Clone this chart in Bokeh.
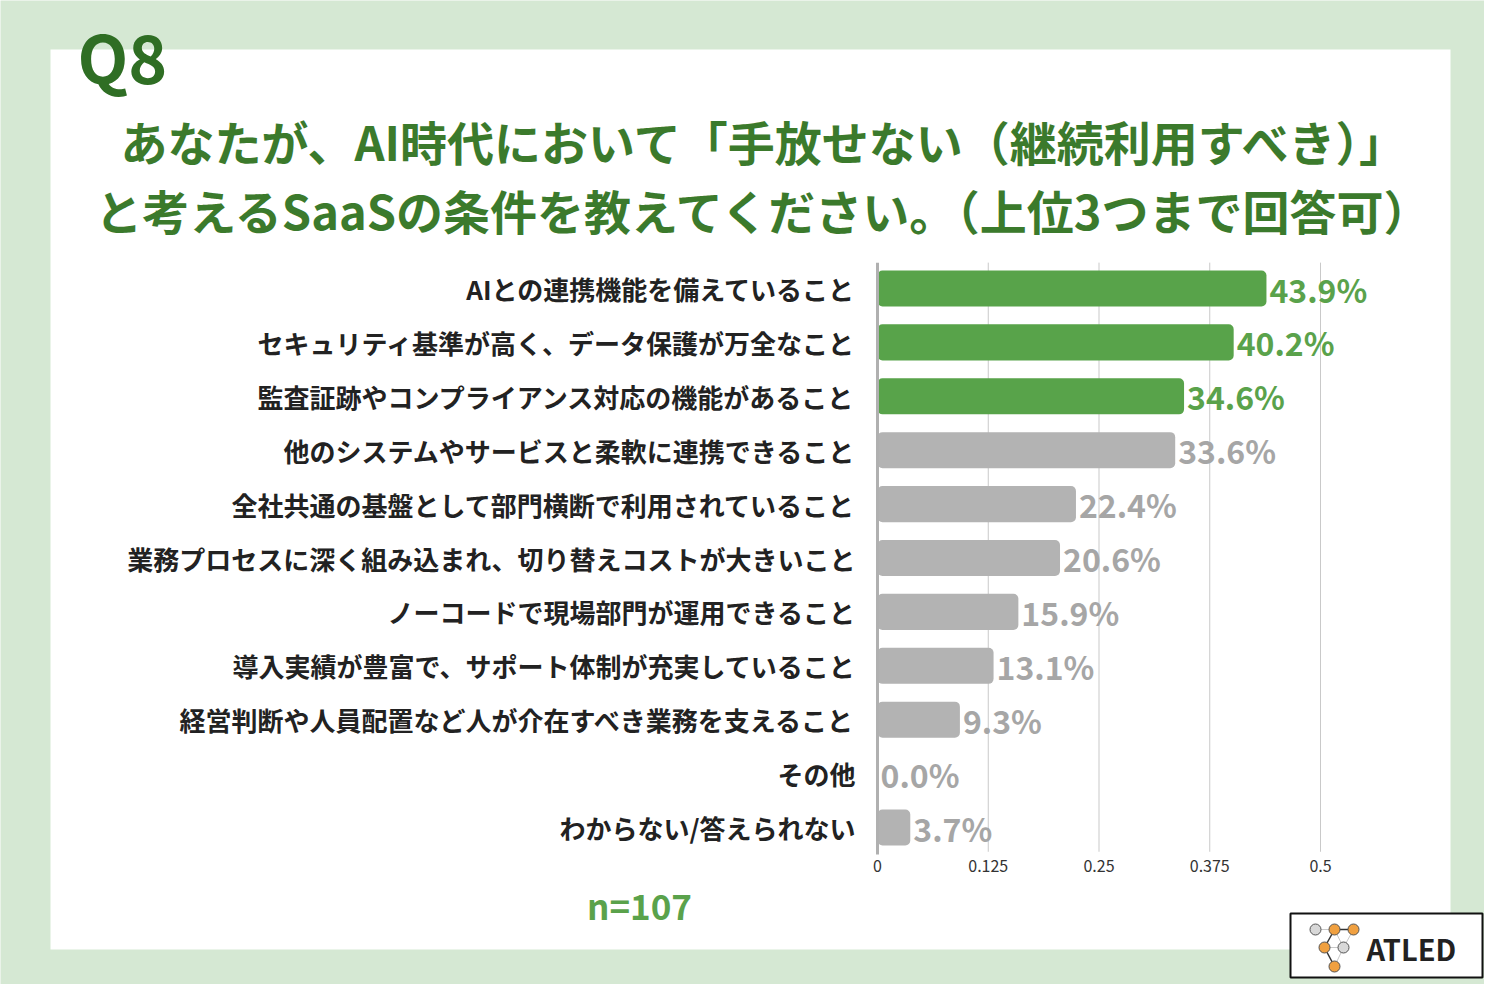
from bokeh.plotting import figure
from bokeh.models import Range1d, ColumnDataSource
from bokeh.core.properties import value
from bokeh.embed import file_html
from bokeh.resources import INLINE

# ---------------- data ----------------
categories = [
    "AIとの連携機能を備えていること",
    "セキュリティ基準が高く、データ保護が万全なこと",
    "監査証跡やコンプライアンス対応の機能があること",
    "他のシステムやサービスと柔軟に連携できること",
    "全社共通の基盤として部門横断で利用されていること",
    "業務プロセスに深く組み込まれ、切り替えコストが大きいこと",
    "ノーコードで現場部門が運用できること",
    "導入実績が豊富で、サポート体制が充実していること",
    "経営判断や人員配置など人が介在すべき業務を支えること",
    "その他",
    "わからない/答えられない",
]
shares = [0.439, 0.402, 0.346, 0.336, 0.224, 0.206, 0.159, 0.131, 0.093, 0.0, 0.037]
ticks = [0, 0.125, 0.25, 0.375, 0.5]
tick_labels = ["0", "0.125", "0.25", "0.375", "0.5"]
highlight_top = 3

question_no = "Q8"
title_lines = [
    "あなたが、AI時代において「手放せない（継続利用すべき）」",
    "と考えるSaaSの条件を教えてください。（上位3つまで回答可）",
]
sample_note = "n=107"
brand = "ATLED"

# ---------------- styles ----------------
FONT = value("Noto Sans CJK JP")
BG = "#d5e8d3"
TITLE_GREEN = "#3b7a2c"
Q_GREEN = "#2f6e24"
BAR_GREEN = "#58a34a"
BAR_GRAY = "#b3b3b3"
LBL_GREEN = "#5aa24b"
LBL_GRAY = "#a6a6a6"

W, H = 1484, 984
# default ranges: pixel coordinates of the picture
p = figure(width=W, height=H, output_backend="svg", toolbar_location=None,
           x_range=Range1d(0, W), y_range=Range1d(H, 0),
           x_axis_type=None, y_axis_type=None, min_border=0)
p.outline_line_color = None
p.background_fill_color = BG
p.border_fill_color = BG
p.grid.visible = False

# value scale: 0 -> px 877, 0.5 -> px 1320
PX0, PXU = 877.0, 886.0
p.extra_x_ranges = {"val": Range1d((0 - PX0) / PXU, (W - PX0) / PXU)}
# row scale: row 0 -> px 288, step 53.9
PY0, PYU = 288.0, 53.9
p.extra_y_ranges = {"row": Range1d((H - PY0) / PYU, (0 - PY0) / PYU)}

# white panel
p.quad(left=[50], right=[1450], top=[49], bottom=[949], fill_color="white", line_color=None)

# title texts
p.text(x=[77], y=[54], text=[question_no], text_font=FONT, text_font_style="bold",
       text_font_size="66px", text_color=Q_GREEN, text_align="left", text_baseline="middle")
p.text(x=[765, 765], y=[140, 209], text=title_lines, text_font=FONT, text_font_style="bold",
       text_font_size="47px", text_color=TITLE_GREEN, text_align="center", text_baseline="middle")

rows = list(range(len(categories)))
colors = [BAR_GREEN if i < highlight_top else BAR_GRAY for i in rows]
lcolors = [LBL_GREEN if i < highlight_top else LBL_GRAY for i in rows]
labels = [f"{v * 100:.1f}%" for v in shares]
src = ColumnDataSource(dict(row=rows, share=shares, cat=categories, color=colors,
                            lcolor=lcolors, label=labels))

# grid lines
top_row, bot_row = -0.48, 10.45
p.segment(x0=ticks[1:], x1=ticks[1:], y0=[top_row] * 4, y1=[bot_row] * 4,
          x_range_name="val", y_range_name="row", line_color="#c9c9c9", line_width=1)

# bars
p.hbar(y="row", left=0, right="share", height=0.67, source=src, fill_color="color",
       line_color=None, x_range_name="val", y_range_name="row", border_radius=5)

# axis line at zero
p.segment(x0=[0], x1=[0], y0=[top_row], y1=[bot_row + 0.05], x_range_name="val",
          y_range_name="row", line_color="#b0b0b0", line_width=3)

# value labels
p.text(x="share", y="row", text="label", source=src, x_offset=3, y_offset=0,
       x_range_name="val", y_range_name="row", text_font=FONT, text_font_style="bold",
       text_font_size="32px", text_color="lcolor", text_align="left", text_baseline="middle")

# category labels
p.text(x=0, y="row", text="cat", source=src, x_offset=-22, x_range_name="val",
       y_range_name="row", text_font=FONT, text_font_style="bold", text_font_size="26px",
       text_color="#222222", text_align="right", text_baseline="middle")

# tick labels
p.text(x=ticks, y=[10.72] * len(ticks), text=tick_labels, x_range_name="val",
       y_range_name="row", text_font=FONT, text_font_size="16px", text_color="#333333",
       text_align="center", text_baseline="middle")

# sample size
p.text(x=[639], y=[904], text=[sample_note], text_font=FONT, text_font_style="bold",
       text_font_size="35px", text_color=LBL_GREEN, text_align="center", text_baseline="middle")

# logo
p.quad(left=[1290], right=[1482], top=[913], bottom=[977], fill_color="white",
       line_color="#111111", line_width=2)
nx = [1315, 1334, 1353, 1324, 1343, 1334]
ny = [929, 929, 929, 947, 947, 966]
p.segment(x0=[1315, 1334, 1324, 1353, 1343], y0=[929, 929, 947, 929, 947],
          x1=[1334, 1343, 1343, 1343, 1334], y1=[929, 947, 947, 947, 966],
          line_color="#c8c8c8", line_width=1)
p.segment(x0=[1334, 1334, 1324], y0=[929, 929, 947], x1=[1353, 1324, 1334], y1=[929, 947, 966],
          line_color="#333333", line_width=1.5)
p.scatter(x=nx, y=ny, size=11,
          fill_color=["#d8d8d8", "#f0a040", "#f0a040", "#f0a040", "#d8d8d8", "#f0a040"],
          line_color="#555555", line_width=1)
p.text(x=[1366], y=[947], text=[brand], text_font=FONT, text_font_style="bold",
       text_font_size="29px", text_color="#222222", text_align="left", text_baseline="middle")

open("out.html", "w").write(file_html(p, INLINE))
